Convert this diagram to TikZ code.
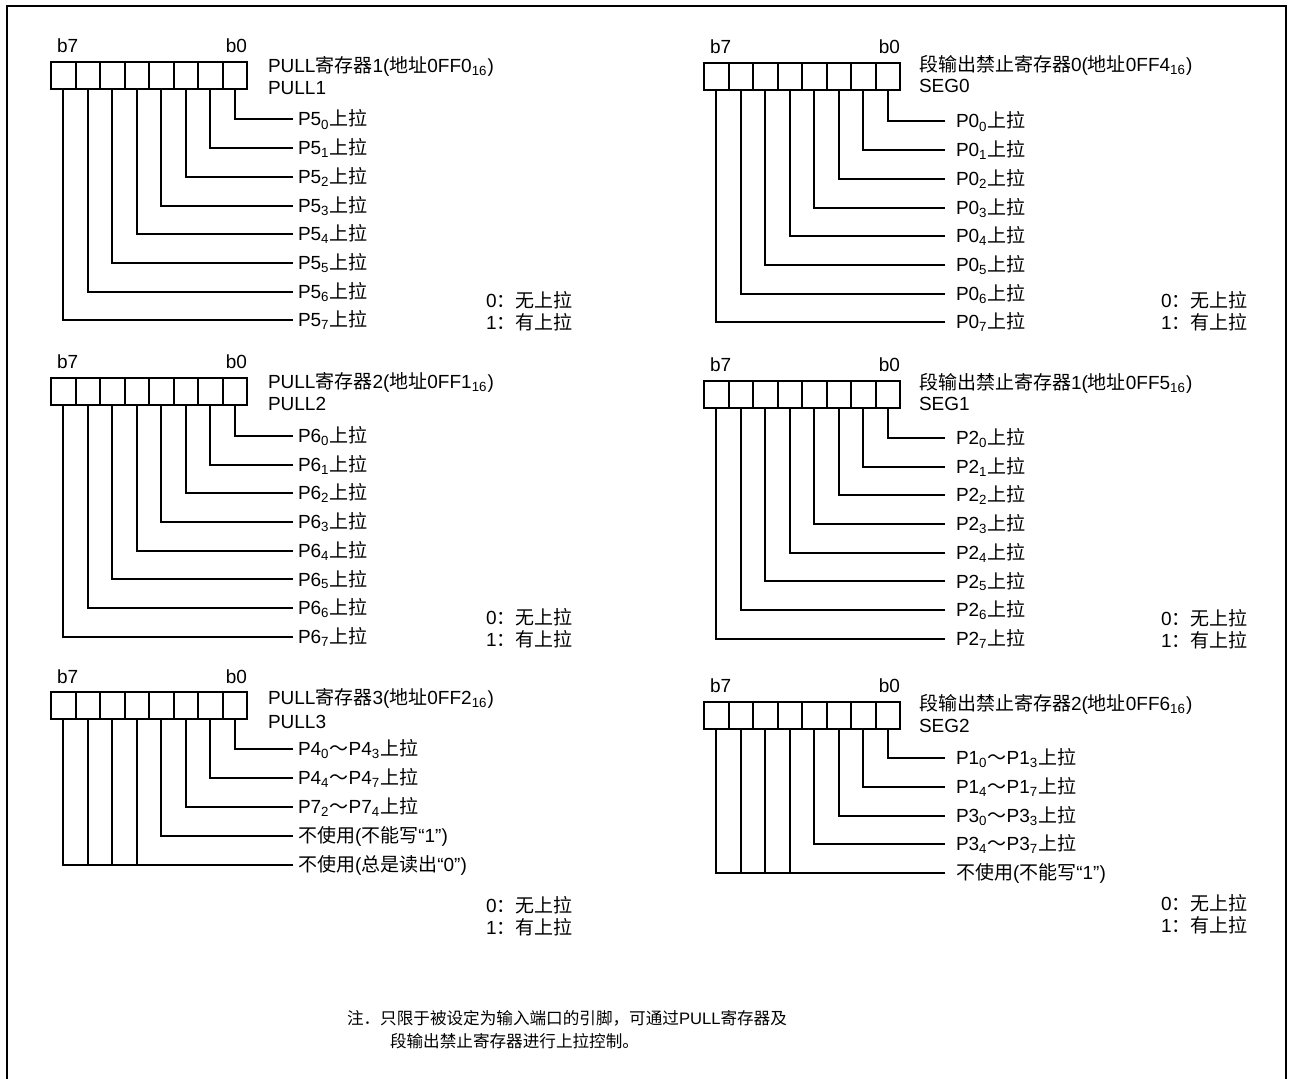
\documentclass[tikz,border=0pt]{standalone}
\usepackage{fontspec}
\setmainfont{Liberation Sans}
\newfontfamily\zh{Noto Sans CJK SC}
\newcommand\zw[1]{{\zh#1}}
\usetikzlibrary{positioning,calc}

\begin{document}
\begin{tikzpicture}[x=0.5pt,y=-0.5pt,line width=1pt,font=\fontsize{9.5}{11}\selectfont]
\tikzstyle{cell}=[draw,minimum width=12.25pt,minimum height=13.5pt,inner sep=0pt]
\tikzstyle{lab}=[anchor=west,inner sep=0pt]
\tikzstyle{bitno}=[inner sep=0pt]
\tikzstyle{note}=[anchor=west,inner sep=0pt,font=\fontsize{8.3}{10}\selectfont]
\useasboundingbox (0,0) rectangle (1291,1079);
\draw[line width=1.4pt] (7,1082) -- (7,6) -- (1286,6) -- (1286,1082);
\foreach \r/\x/\y in {p1/51/62,p2/51/378,p3/51/692,s0/704/63,s1/704/381,s2/704/702}{
  \foreach \i in {0,...,7}
    \node[cell] (\r c\i) at ({\x+(7.5-\i)*24.5},{\y+13.5}) {};
  \node[bitno,anchor=base west] (\r b7) at ([shift={(6,-8)}]\r c7.north west) {b7};
  \node[bitno,anchor=base east] (\r b0) at ([shift={(0,-8)}]\r c0.north east) {b0};
}
\node[lab] (p1t) at (267,66) {PULL\zw{寄存器}1(\zw{地址}0FF0\textsubscript{16})};
\node[lab] (p1n) at (267,88) {PULL1};
\node[lab] (p2t) at (267,382) {PULL\zw{寄存器}2(\zw{地址}0FF1\textsubscript{16})};
\node[lab] (p2n) at (267,404) {PULL2};
\node[lab] (p3t) at (267,698) {PULL\zw{寄存器}3(\zw{地址}0FF2\textsubscript{16})};
\node[lab] (p3n) at (267,722) {PULL3};
\node[lab] (s0t) at (918,65) {\zw{段输出禁止寄存器}0(\zw{地址}0FF4\textsubscript{16})};
\node[lab] (s0n) at (918,86) {SEG0};
\node[lab] (s1t) at (918,383) {\zw{段输出禁止寄存器}1(\zw{地址}0FF5\textsubscript{16})};
\node[lab] (s1n) at (918,404) {SEG1};
\node[lab] (s2t) at (918,704) {\zw{段输出禁止寄存器}2(\zw{地址}0FF6\textsubscript{16})};
\node[lab] (s2n) at (918,726) {SEG2};
\foreach \r/\p/\x/\y/\g in {p1/5/297/119.5/2pt,p2/6/297/436/2pt,s0/0/955/121.5/5pt,s1/2/955/438/5pt}{
  \foreach \i in {0,...,7}{
    \node[lab] (\r l\i) at (\x,{\y+28.7*\i}) {P\p\textsubscript{\i}\zw{上拉}};
    \draw[shorten >=\g] (\r c\i.south) |- (\r l\i.west);
  }
}
\node[lab] (p3l0) at (297,749) {P4\textsubscript{0}\zw{～}P4\textsubscript{3}\zw{上拉}};
\node[lab] (p3l1) at (297,778) {P4\textsubscript{4}\zw{～}P4\textsubscript{7}\zw{上拉}};
\node[lab] (p3l2) at (297,807) {P7\textsubscript{2}\zw{～}P7\textsubscript{4}\zw{上拉}};
\node[lab] (p3l3) at (297,836) {\zw{不使用}(\zw{不能写}“1”)};
\node[lab] (p3l4) at (297,865) {\zw{不使用}(\zw{总是读出}“0”)};
\foreach \i in {0,...,3}
  \draw[shorten >=2pt] (p3c\i.south) |- (p3l\i.west);
\draw[shorten >=2pt] (p3c7.south) |- (p3l4.west);
\foreach \i in {4,5,6}
  \draw (p3c\i.south) -- (p3c\i.south |- p3l4.west);
\node[lab] (s2l0) at (955,758) {P1\textsubscript{0}\zw{～}P1\textsubscript{3}\zw{上拉}};
\node[lab] (s2l1) at (955,787) {P1\textsubscript{4}\zw{～}P1\textsubscript{7}\zw{上拉}};
\node[lab] (s2l2) at (955,816) {P3\textsubscript{0}\zw{～}P3\textsubscript{3}\zw{上拉}};
\node[lab] (s2l3) at (955,844) {P3\textsubscript{4}\zw{～}P3\textsubscript{7}\zw{上拉}};
\node[lab] (s2l4) at (955,873) {\zw{不使用}(\zw{不能写}“1”)};
\foreach \i in {0,...,3}
  \draw[shorten >=5pt] (s2c\i.south) |- (s2l\i.west);
\draw[shorten >=5pt] (s2c7.south) |- (s2l4.west);
\foreach \i in {4,5,6}
  \draw (s2c\i.south) -- (s2c\i.south |- s2l4.west);
\foreach \k/\x/\y in {p1/485/300,p2/485/617,p3/485/905,s0/1160/300,s1/1160/618,s2/1160/903}{
  \node[lab] (\k k0) at (\x,\y) {0\zw{：无上拉}};
  \node[lab] (\k k1) at (\x,\y+22) {1\zw{：有上拉}};
}
\node[note] (note1) at (346,1018) {\zw{注．只限于被设定为输入端口的引脚，可通过}PULL\zw{寄存器及}};
\node[note] (note2) at (389,1041) {\zw{段输出禁止寄存器进行上拉控制。}};
\end{tikzpicture}
\end{document}
